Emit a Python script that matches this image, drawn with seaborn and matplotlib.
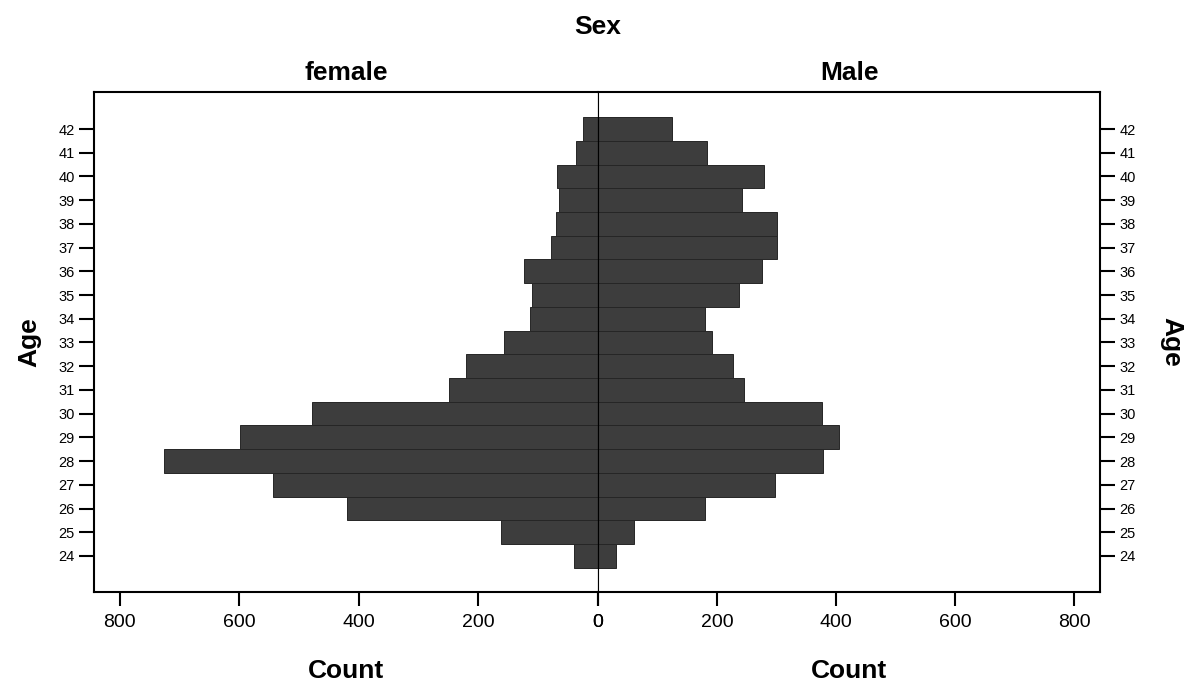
import matplotlib
matplotlib.use('Agg')
import matplotlib.pyplot as plt
import seaborn as sns
import pandas as pd

ages = list(range(24, 43))
female_counts = [40, 163, 419, 543, 726, 598, 478, 250, 220, 158,
                 114, 111, 123, 78, 71, 66, 68, 36, 25]
male_counts = [30, 61, 179, 297, 377, 405, 376, 245, 226, 191,
               180, 236, 275, 300, 300, 241, 278, 183, 124]
panel_titles = ['female', 'Male']
x_ticks = [0, 200, 400, 600, 800]

sns.set_theme(style='ticks')
plt.rcParams['font.family'] = ['Liberation Sans', 'DejaVu Sans']
plt.rcParams['text.color'] = 'black'
plt.rcParams['axes.labelcolor'] = 'black'

female = pd.DataFrame({'Age': ages, 'Count': female_counts})
male = pd.DataFrame({'Age': ages, 'Count': male_counts})

fig = plt.figure(figsize=(11.86, 6.81), dpi=100)
left, mid, right = 94 / 1186, 598 / 1186, 1100 / 1186
bottom, top = 1 - 592 / 681, 1 - 92 / 681
ax_f = fig.add_axes([left, bottom, mid - left, top - bottom])
ax_m = fig.add_axes([mid, bottom, right - mid, top - bottom], sharey=ax_f)

bar_color = '#3d3d3d'
for ax, df in [(ax_f, female), (ax_m, male)]:
    sns.barplot(data=df, x='Count', y='Age', orient='h', native_scale=True,
                width=1.0, color=bar_color, edgecolor='#262626', linewidth=0.7,
                saturation=1, ax=ax)

xmax = 843
ax_f.set_xlim(xmax, 0)
ax_m.set_xlim(0, xmax)
ax_f.set_ylim(22.48, 43.56)
ax_f.set_yticks(ages)

for ax, title in zip([ax_f, ax_m], panel_titles):
    ax.set_xticks(x_ticks)
    ax.set_xticklabels([str(t) for t in x_ticks])
    ax.tick_params(axis='x', length=10, width=1.5, pad=6, labelsize=14, colors='black')
    ax.tick_params(axis='y', length=11, width=1.5, pad=3, labelsize=10.5, colors='black')
    ax.set_title(title, fontsize=19, fontweight='bold', pad=9, color='black')
    ax.set_xlabel('Count', fontsize=19, fontweight='bold', labelpad=20)
    for side in ['top', 'bottom', 'left', 'right']:
        ax.spines[side].set_visible(True)
        ax.spines[side].set_color('black')
        ax.spines[side].set_linewidth(1.5)

ax_f.spines['right'].set_linewidth(0.8)
ax_m.spines['left'].set_linewidth(0.8)
ax_f.set_ylabel('Age', fontsize=19, fontweight='bold', labelpad=12)
ax_m.yaxis.tick_right()
ax_m.yaxis.set_label_position('right')
ax_m.tick_params(axis='y', left=False, right=True, labelleft=False, labelright=True)
ax_m.set_ylabel('Age', fontsize=19, fontweight='bold', rotation=-90, labelpad=34)

fig.text(mid, 1 - 27 / 681, 'Sex', ha='center', va='center', fontsize=19,
         fontweight='bold', color='black')

fig.savefig('out.png', dpi=100, facecolor='white')
